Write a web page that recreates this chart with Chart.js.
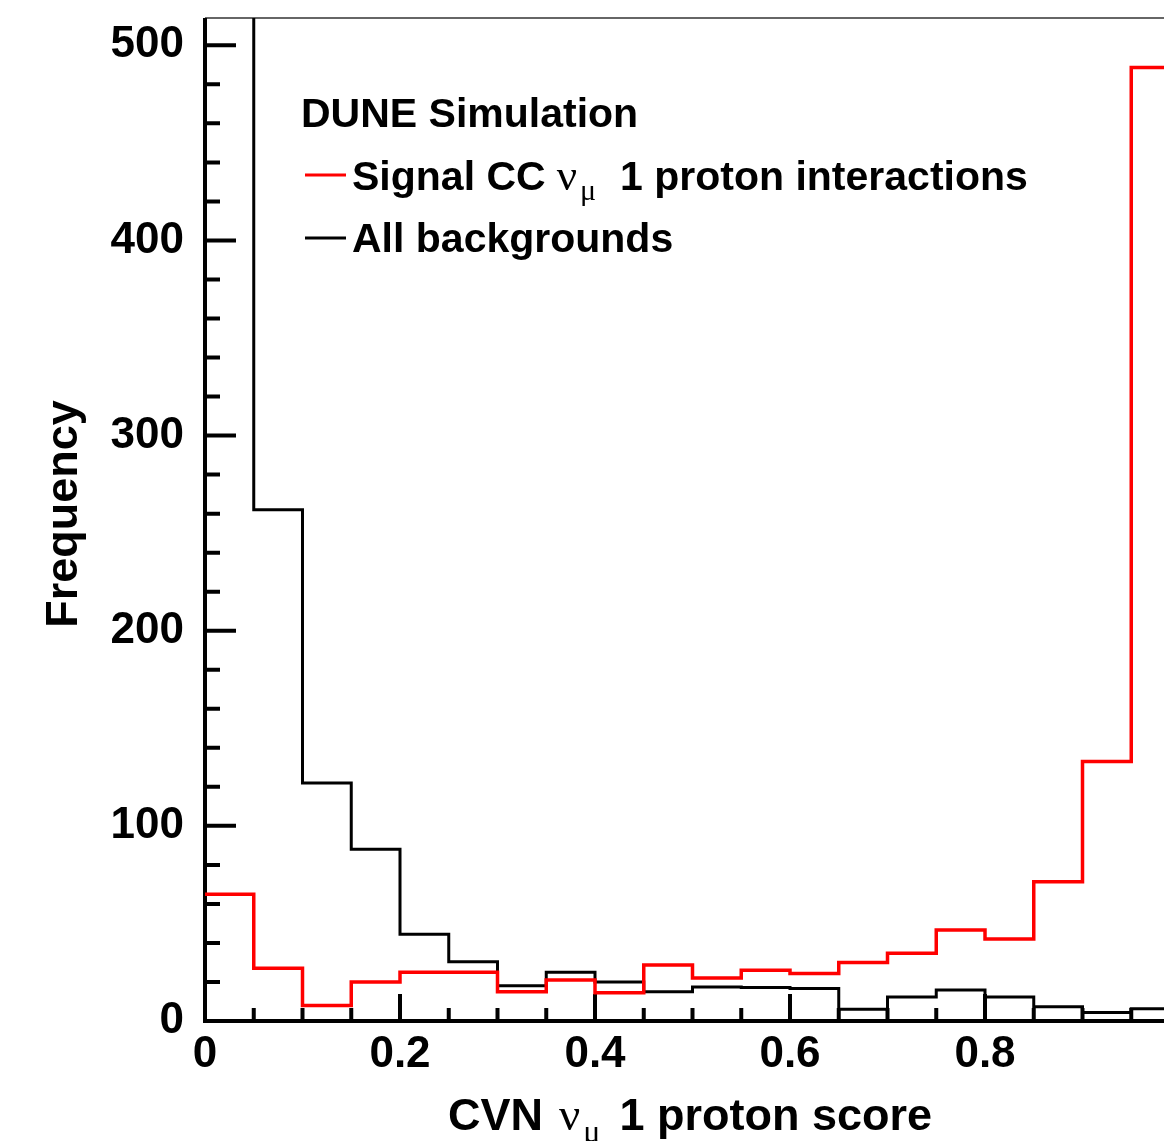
<!DOCTYPE html>
<html>
<head>
<meta charset="utf-8">
<script src="https://cdn.jsdelivr.net/npm/chart.js@4.4.0/dist/chart.umd.min.js"></script>
<style>
  html, body { margin: 0; padding: 0; background: #fff; overflow: hidden; }
  #wrap { width: 1164px; height: 1141px; overflow: hidden; }
</style>
</head>
<body>
<div id="wrap"><canvas id="histChart" width="1200" height="1141"></canvas></div>
<script>
// CVN score bins, width 0.05
var binEdges = [0, 0.05, 0.1, 0.15, 0.2, 0.25, 0.3, 0.35, 0.4, 0.45, 0.5,
                0.55, 0.6, 0.65, 0.7, 0.75, 0.8, 0.85, 0.9, 0.95, 1.0];

// entries per bin
var signalCounts = [65, 27, 8, 20, 25, 25, 15, 21, 14.5, 28.7,
                    22, 26, 24.4, 30, 34.7, 46.6, 42, 71.3, 133, 488.6];
var backgroundCounts = [1200, 262, 122, 88, 44.4, 30.4, 18.1, 25, 20, 15,
                        17.4, 17.2, 16.7, 6, 12.3, 15.9, 12.3, 7.3, 4.3, 6.3];

// labelled tick values
var xMajorTicks = [0, 0.2, 0.4, 0.6, 0.8, 1.0];
var yMajorTicks = [0, 100, 200, 300, 400, 500];

var SANS = '"Liberation Sans", Arial, Helvetica, sans-serif';
var SERIF = '"Liberation Serif", "Times New Roman", serif';

function isMajor(list, v) {
    return list.some(function (m) { return Math.abs(m - v) < 1e-6; });
}

// turn bin counts into an outline: one flat segment per bin
function stepPoints(counts) {
    var pts = [];
    counts.forEach(function (v, i) {
        pts.push({ x: binEdges[i], y: v });
        pts.push({ x: binEdges[i + 1], y: v });
    });
    return pts;
}

// draw a run of text pieces with different fonts / offsets
// a piece may carry a 'gap' (extra space before it) and 'dy' (baseline shift)
function drawRich(ctx, parts, x, y, align) {
    var total = 0;
    parts.forEach(function (p) {
        ctx.font = p.font;
        total += (p.gap || 0) + ctx.measureText(p.text).width;
    });
    var cx = align === 'center' ? x - total / 2 : x;
    ctx.textAlign = 'left';
    ctx.textBaseline = 'alphabetic';
    parts.forEach(function (p) {
        ctx.font = p.font;
        cx += p.gap || 0;
        ctx.fillText(p.text, cx, y + (p.dy || 0));
        cx += ctx.measureText(p.text).width;
    });
}

var rootStyle = {
    id: 'rootStyle',
    beforeDatasetsDraw: function (chart) {
        var ctx = chart.ctx, a = chart.chartArea;
        var xs = chart.scales.x, ys = chart.scales.y;
        ctx.save();
        // top frame line
        ctx.strokeStyle = '#666';
        ctx.lineWidth = 2;
        ctx.beginPath();
        ctx.moveTo(a.left, a.top);
        ctx.lineTo(a.right, a.top);
        ctx.stroke();
        // axis lines
        ctx.strokeStyle = '#000';
        ctx.lineWidth = 4;
        ctx.beginPath();
        ctx.moveTo(a.left, a.top);
        ctx.lineTo(a.left, a.bottom);
        ctx.lineTo(a.right, a.bottom);
        ctx.stroke();
        // ticks point inwards
        ctx.lineWidth = 4;
        ctx.beginPath();
        xs.ticks.forEach(function (t) {
            var px = xs.getPixelForValue(t.value);
            var len = isMajor(xMajorTicks, t.value) ? 27 : 13;
            ctx.moveTo(px, a.bottom);
            ctx.lineTo(px, a.bottom - len);
        });
        ys.ticks.forEach(function (t) {
            var py = ys.getPixelForValue(t.value);
            var len = isMajor(yMajorTicks, t.value) ? 31 : 15;
            ctx.moveTo(a.left, py);
            ctx.lineTo(a.left + len, py);
        });
        ctx.stroke();
        ctx.restore();
    },
    afterDraw: function (chart) {
        var ctx = chart.ctx;
        ctx.save();
        ctx.fillStyle = '#000';
        var bold45 = 'bold 45px ' + SANS;
        var bold41 = 'bold 41px ' + SANS;

        // x title
        drawRich(ctx, [
            { text: 'CVN', font: bold45 },
            { text: '\u03bd', font: '47px ' + SERIF, gap: 16 },
            { text: '\u03bc', font: '32px ' + SERIF, dy: 12, gap: 3 },
            { text: '1 proton score', font: bold45, gap: 19 }
        ], 690, 1130, 'center');

        // y title
        ctx.save();
        ctx.translate(77, 514);
        ctx.rotate(-Math.PI / 2);
        ctx.font = bold45;
        ctx.textAlign = 'center';
        ctx.textBaseline = 'alphabetic';
        ctx.fillText('Frequency', 0, 0);
        ctx.restore();

        // legend
        ctx.font = bold41;
        ctx.textAlign = 'left';
        ctx.fillText('DUNE Simulation', 301, 127);

        ctx.lineWidth = 3;
        ctx.strokeStyle = '#ff0000';
        ctx.beginPath();
        ctx.moveTo(305, 175);
        ctx.lineTo(346, 175);
        ctx.stroke();
        drawRich(ctx, [
            { text: 'Signal CC', font: bold41 },
            { text: '\u03bd', font: '45px ' + SERIF, gap: 11 },
            { text: '\u03bc', font: '30px ' + SERIF, dy: 10, gap: 3 },
            { text: '1 proton interactions', font: bold41, gap: 24 }
        ], 352, 190, 'left');

        ctx.strokeStyle = '#000';
        ctx.beginPath();
        ctx.moveTo(305, 238);
        ctx.lineTo(346, 238);
        ctx.stroke();
        ctx.font = bold41;
        ctx.fillText('All backgrounds', 352, 252);
        ctx.restore();
    }
};

var tickFont = { family: SANS, weight: 'bold', size: 44 };

var ctx = document.getElementById('histChart').getContext('2d');
var myChart = new Chart(ctx, {
    type: 'line',
    data: {
        datasets: [{
            label: 'Signal CC \u03bd\u03bc 1 proton interactions',
            data: stepPoints(signalCounts),
            borderColor: '#ff0000',
            borderWidth: 3.5,
            pointRadius: 0,
            fill: false,
            tension: 0
        }, {
            label: 'All backgrounds',
            data: stepPoints(backgroundCounts),
            borderColor: '#000000',
            borderWidth: 3,
            pointRadius: 0,
            fill: false,
            tension: 0
        }]
    },
    options: {
        responsive: false,
        animation: false,
        devicePixelRatio: 1,
        layout: { padding: { top: 18, right: 20, left: 0, bottom: 0 } },
        plugins: {
            legend: { display: false },
            tooltip: { enabled: false }
        },
        scales: {
            x: {
                type: 'linear',
                min: 0,
                max: 1,
                grid: { display: false },
                border: { display: false },
                ticks: {
                    stepSize: 0.05,
                    autoSkip: false,
                    maxRotation: 0,
                    includeBounds: false,
                    padding: -1,
                    color: '#000',
                    font: tickFont,
                    callback: function (v) {
                        if (!isMajor(xMajorTicks, v)) return '';
                        return Math.abs(v) < 1e-6 ? '0' : (Math.abs(v - 1) < 1e-6 ? '1' : v.toFixed(1));
                    }
                },
                afterFit: function (s) {
                    s.height = 120;
                    s.paddingLeft = 0;
                    s.paddingRight = 0;
                }
            },
            y: {
                min: 0,
                max: 514,
                grid: { display: false },
                border: { display: false },
                ticks: {
                    stepSize: 20,
                    autoSkip: false,
                    includeBounds: false,
                    padding: 13,
                    color: '#000',
                    font: tickFont,
                    callback: function (v) {
                        return isMajor(yMajorTicks, v) ? String(v) : '';
                    }
                },
                afterFit: function (s) {
                    s.width = 205;
                    s.paddingTop = 0;
                    s.paddingBottom = 0;
                }
            }
        }
    },
    plugins: [rootStyle]
});
</script>
</body>
</html>
